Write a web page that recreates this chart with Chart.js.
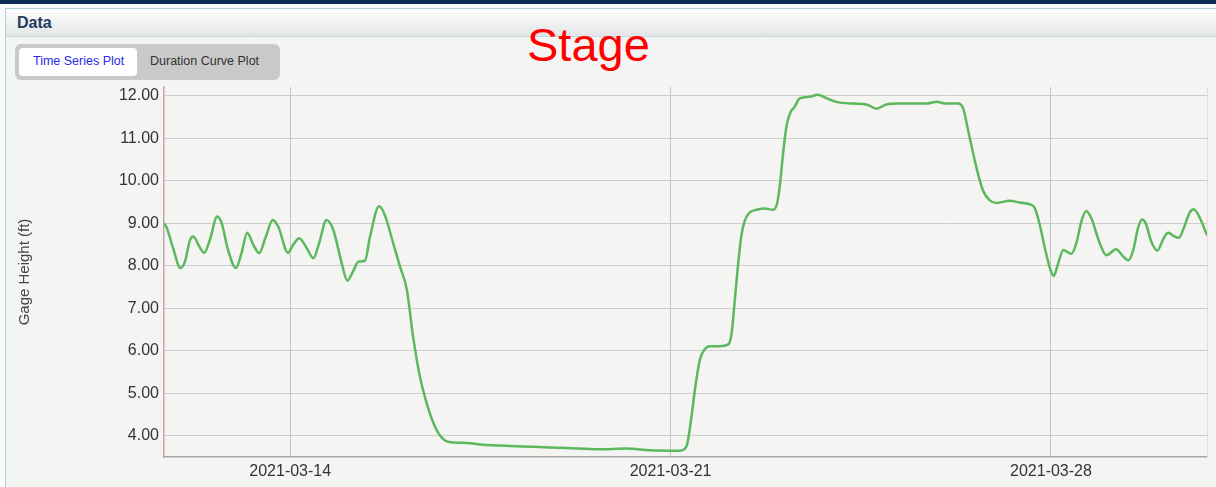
<!DOCTYPE html>
<html>
<head>
<meta charset="utf-8">
<script src="https://cdn.jsdelivr.net/npm/chart.js@4/dist/chart.umd.min.js"></script>
<style>
  body { margin:0; width:1216px; height:487px; overflow:hidden; position:relative; background:#fafafa; font-family:"Liberation Sans", Arial, sans-serif; }
  #topbar { position:absolute; left:0; top:0; width:1216px; height:4px; background:#0c2b52; }
  #panel { position:absolute; left:5px; top:8px; width:1230px; height:500px; border:1px solid #a8d5da; background:#f4f4f3; }
  #hdr { height:27px; background:linear-gradient(#fdfdfd, #e4e5e6); border-bottom:1px solid #c6d9dc; }
  #hdr span { position:absolute; left:11px; top:5px; font-weight:bold; font-size:16px; color:#1f3b62; }
  #btns { position:absolute; left:15px; top:44px; width:265px; height:36px; background:#c9c9c9; border-radius:6px; }
  #btn1 { position:absolute; left:4px; top:4px; width:118px; height:28px; background:#fff; border-radius:4px; }
  .btxt { position:absolute; top:10px; font-size:12.5px; line-height:14px; white-space:nowrap; }
  #stage { position:absolute; left:527px; top:19px; font-size:47px; line-height:52px; color:#ff0000; }
  #wrap { position:absolute; left:0; top:80px; width:1216px; height:407px; }
</style>
</head>
<body>
<div id="topbar"></div>
<div id="panel"><div id="hdr"><span>Data</span></div></div>
<div id="btns">
  <div id="btn1"></div>
  <span class="btxt" style="left:18px;color:#2828e6">Time Series Plot</span>
  <span class="btxt" style="left:135px;color:#333">Duration Curve Plot</span>
</div>
<div id="stage">Stage</div>
<div id="wrap"><canvas id="grafico"></canvas></div>
<script>
// valores (hora UTC)
const times = [
  '2021-03-11T16:15','2021-03-11T17:30','2021-03-11T20:15','2021-03-11T23:30','2021-03-12T01:30','2021-03-12T03:45',
  '2021-03-12T05:15','2021-03-12T07:30','2021-03-12T10:00','2021-03-12T12:30','2021-03-12T15:45','2021-03-12T17:45',
  '2021-03-12T20:30','2021-03-13T00:00','2021-03-13T02:30','2021-03-13T05:00','2021-03-13T07:45','2021-03-13T10:15',
  '2021-03-13T13:15','2021-03-13T16:15','2021-03-13T18:45','2021-03-13T23:00','2021-03-14T01:15','2021-03-14T04:00',
  '2021-03-14T07:15','2021-03-14T10:15','2021-03-14T12:45','2021-03-14T16:00','2021-03-14T19:00','2021-03-14T22:45',
  '2021-03-15T01:15','2021-03-15T03:45','2021-03-15T06:15','2021-03-15T09:00','2021-03-15T11:15','2021-03-15T15:15',
  '2021-03-15T17:45','2021-03-15T21:30','2021-03-16T00:30','2021-03-16T03:30','2021-03-16T06:15','2021-03-16T09:15',
  '2021-03-16T12:15','2021-03-16T15:15','2021-03-16T18:00','2021-03-16T21:45','2021-03-17T06:00','2021-03-17T13:15',
  '2021-03-17T20:30','2021-03-18T11:15','2021-03-19T02:00','2021-03-19T16:45','2021-03-20T04:30','2021-03-20T14:45',
  '2021-03-21T04:00','2021-03-21T07:00','2021-03-21T09:15','2021-03-21T10:45','2021-03-21T13:00','2021-03-21T15:00',
  '2021-03-21T17:15','2021-03-21T21:45','2021-03-22T01:30','2021-03-22T03:00','2021-03-22T04:15','2021-03-22T05:45',
  '2021-03-22T07:15','2021-03-22T08:45','2021-03-22T11:00','2021-03-22T14:00','2021-03-22T17:30','2021-03-22T21:15',
  '2021-03-22T23:00','2021-03-23T00:15','2021-03-23T01:45','2021-03-23T03:15','2021-03-23T05:00','2021-03-23T06:45',
  '2021-03-23T09:00','2021-03-23T13:30','2021-03-23T17:00','2021-03-23T20:45','2021-03-24T01:15','2021-03-24T08:30',
  '2021-03-24T14:30','2021-03-24T19:00','2021-03-24T23:15','2021-03-25T05:15','2021-03-25T11:00','2021-03-25T17:00',
  '2021-03-25T21:30','2021-03-26T01:45','2021-03-26T07:00','2021-03-26T09:15','2021-03-26T11:15','2021-03-26T13:30',
  '2021-03-26T15:45','2021-03-26T18:00','2021-03-26T21:00','2021-03-27T00:00','2021-03-27T05:45','2021-03-27T10:15',
  '2021-03-27T14:30','2021-03-27T16:45','2021-03-27T19:00','2021-03-27T21:15','2021-03-27T23:30','2021-03-28T01:15',
  '2021-03-28T03:00','2021-03-28T05:30','2021-03-28T09:00','2021-03-28T11:15','2021-03-28T13:30','2021-03-28T15:30',
  '2021-03-28T17:45','2021-03-28T21:30','2021-03-29T00:30','2021-03-29T04:45','2021-03-29T07:45','2021-03-29T10:15',
  '2021-03-29T12:15','2021-03-29T14:30','2021-03-29T16:15','2021-03-29T18:00','2021-03-29T20:15','2021-03-29T23:00',
  '2021-03-30T01:30','2021-03-30T03:45','2021-03-30T06:15','2021-03-30T08:30','2021-03-30T11:00','2021-03-30T13:15',
  '2021-03-30T15:00','2021-03-30T17:45','2021-03-30T20:55'
];
const stage = [
  9.00, 8.89, 8.42, 7.95, 8.10, 8.61,
  8.69, 8.49, 8.31, 8.61, 9.16, 9.00,
  8.38, 7.95, 8.30, 8.78, 8.49, 8.30,
  8.69, 9.08, 8.92, 8.31, 8.49, 8.65,
  8.42, 8.18, 8.53, 9.08, 8.85, 8.06,
  7.65, 7.87, 8.10, 8.12, 8.69, 9.40,
  9.20, 8.53, 7.98, 7.44, 6.34, 5.40,
  4.77, 4.30, 4.02, 3.86, 3.83, 3.79,
  3.77, 3.74, 3.71, 3.68, 3.70, 3.66,
  3.65, 3.75, 4.46, 5.09, 5.80, 6.03,
  6.11, 6.11, 6.15, 6.43, 7.13, 8.00,
  8.71, 9.06, 9.26, 9.32, 9.35, 9.32,
  9.46, 9.89, 10.68, 11.31, 11.62, 11.74,
  11.94, 11.98, 12.03, 11.95, 11.86, 11.82,
  11.80, 11.70, 11.80, 11.82, 11.82, 11.82,
  11.86, 11.82, 11.82, 11.70, 11.23, 10.68,
  10.17, 9.77, 9.54, 9.48, 9.53, 9.49,
  9.45, 9.37, 8.98, 8.43, 7.95, 7.76,
  8.03, 8.37, 8.28, 8.54, 9.06, 9.29,
  9.13, 8.54, 8.25, 8.39, 8.23, 8.13,
  8.35, 8.90, 9.09, 8.98, 8.58, 8.36,
  8.62, 8.78, 8.70, 8.66, 8.94, 9.25,
  9.33, 9.13, 8.72
];
const xTickLabels = ['2021-03-14', '2021-03-21', '2021-03-28'];
const yTicks = [4, 5, 6, 7, 8, 9, 10, 11, 12];
const yMin = 3.5, yMax = 12.21;

function ms(s) { return Date.parse(s.length === 10 ? s + 'T00:00Z' : s + 'Z'); }

const pontos = times.map((t, i) => ({ x: ms(t), y: stage[i] }));

const ctx = document.getElementById('grafico');
new Chart(ctx, {
  type: 'line',
  data: {
    datasets: [{
      label: 'Gage Height',
      data: pontos,
      borderColor: '#5cb85c',
      borderWidth: 2.5,
      pointRadius: 0,
      cubicInterpolationMode: 'monotone',
      fill: false
    }]
  },
  options: {
    responsive: true,
    maintainAspectRatio: false,
    animation: false,
    devicePixelRatio: 1,
    layout: { padding: { top: 7, right: 9, left: 0, bottom: 0 } },
    plugins: { legend: { display: false }, tooltip: { enabled: false } },
    scales: {
      x: {
        type: 'linear',
        bounds: 'data',
        min: ms(times[0]),
        max: ms(times[times.length - 1]),
        afterBuildTicks: s => { s.ticks = xTickLabels.map(d => ({ value: ms(d) })); },
        afterFit: s => { s.height = 30; s.paddingLeft = 0; s.paddingRight = 0; },
        ticks: {
          autoSkip: false, maxRotation: 0, padding: 5, color: '#333',
          font: { family: '"Liberation Sans", Arial', size: 16 },
          callback: v => new Date(v).toISOString().slice(0, 10)
        },
        grid: { color: '#c4c4c4', drawTicks: false },
        border: { color: '#a6a6a6', width: 1.5 }
      },
      y: {
        min: yMin,
        max: yMax,
        afterBuildTicks: s => { s.ticks = yTicks.map(v => ({ value: v })); },
        afterFit: s => { s.width = 164; s.paddingTop = 0; s.paddingBottom = 0; },
        ticks: {
          padding: 5, color: '#333',
          font: { family: '"Liberation Sans", Arial', size: 16 },
          callback: v => Number(v).toFixed(2)
        },
        grid: { color: '#cdcdcd', drawTicks: false },
        border: { color: '#c4a6a6', width: 1.5 },
        title: {
          display: true, text: 'Gage Height (ft)', color: '#444',
          font: { family: '"Liberation Sans", Arial', size: 15 },
          padding: { top: 16 }
        }
      },
      y2: {
        position: 'right',
        afterFit: s => { s.width = 0; s.paddingTop = 0; s.paddingBottom = 0; },
        ticks: { display: false },
        grid: { drawOnChartArea: false, drawTicks: false },
        border: { color: '#f1d7d7' }
      }
    }
  }
});
</script>
</body>
</html>
